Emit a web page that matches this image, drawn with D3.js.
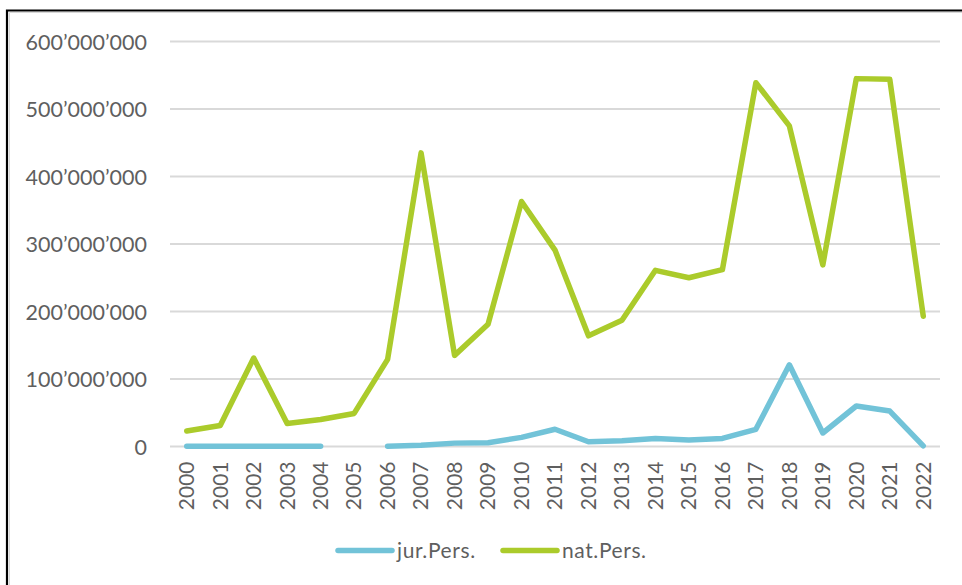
<!DOCTYPE html>
<html>
<head>
<meta charset="utf-8">
<script src="https://cdn.jsdelivr.net/npm/d3@7"></script>
<style>
  html, body { margin: 0; padding: 0; background: #fff; }
  svg { display: block; }
  text { font-family: Lato, "Open Sans", sans-serif; fill: #5f5f5f; }
</style>
</head>
<body>
<svg id="chart" width="962" height="585"></svg>
<script>
// Years on the category axis
const years = ["2000","2001","2002","2003","2004","2005","2006","2007","2008","2009","2010","2011",
               "2012","2013","2014","2015","2016","2017","2018","2019","2020","2021","2022"];

// Legal persons (no figure for 2005)
const jurPers = [0.5e6, 0.5e6, 0.5e6, 0.5e6, 0.5e6, null, 0.5e6, 2e6, 5e6, 5.5e6, 13.5e6, 25.5e6,
                 7e6, 8.5e6, 12e6, 9.5e6, 12e6, 25.5e6, 121e6, 20e6, 60e6, 52.5e6, 1e6];

// Natural persons
const natPers = [23e6, 31e6, 131e6, 34e6, 40e6, 49e6, 129e6, 435e6, 135e6, 181e6, 363e6, 291e6,
                 164e6, 187e6, 261e6, 250e6, 262e6, 539e6, 475e6, 269e6, 545e6, 544e6, 193e6];

const yTicks = [0, 100e6, 200e6, 300e6, 400e6, 500e6, 600e6];

const seriesNames = ["jur.Pers.", "nat.Pers."];
const seriesColors = ["#72C3D8", "#ABCB2B"];

const svg = d3.select("#chart");

// Frame around the chart area (left and top edges visible)
svg.append("path")
  .attr("d", "M7,585 V10.5 H962")
  .attr("fill", "none")
  .attr("stroke", "#000")
  .attr("stroke-width", 2.2);
svg.append("path")
  .attr("d", "M9.5,585 V12.5 H962")
  .attr("fill", "none")
  .attr("stroke", "#d8d8d8")
  .attr("stroke-width", 1);

const plot = { left: 170, right: 940, top: 41.5, bottom: 446.5 };

const x = d3.scaleBand().domain(years).range([plot.left, plot.right]);
const y = d3.scaleLinear().domain([0, 600e6]).range([plot.bottom, plot.top]);

const fmt = v => d3.format(",")(v).replace(/,/g, "\u2019");

// Horizontal gridlines
svg.append("g")
  .selectAll("line")
  .data(yTicks)
  .join("line")
  .attr("x1", plot.left).attr("x2", plot.right)
  .attr("y1", d => y(d)).attr("y2", d => y(d))
  .attr("stroke", "#d9d9d9")
  .attr("stroke-width", 2);

// Y axis labels
const yAxis = d3.axisLeft(y).tickValues(yTicks).tickFormat(fmt).tickSize(0).tickPadding(0);
const gy = svg.append("g").attr("transform", "translate(147,0)").call(yAxis);
gy.select(".domain").remove();
gy.selectAll("text")
  .attr("font-size", 21.5)
  .attr("dy", "0.35em")
  .style("font-family", "Lato, 'Open Sans', sans-serif")
  .attr("fill", "#5f5f5f");

// X axis labels, rotated
const xAxis = d3.axisBottom(x).tickSize(0).tickPadding(0);
const gx = svg.append("g").attr("transform", `translate(0,${plot.bottom})`).call(xAxis);
gx.select(".domain").remove();
gx.selectAll("text")
  .attr("font-size", 21)
  .style("font-family", "Lato, 'Open Sans', sans-serif")
  .attr("fill", "#5f5f5f")
  .attr("text-anchor", "end")
  .attr("transform", "rotate(-90)")
  .attr("x", -15)
  .attr("y", 0)
  .attr("dy", "0.35em");

// Series lines
const line = d3.line()
  .defined(d => d.v !== null)
  .x(d => x(d.year) + x.bandwidth() / 2)
  .y(d => y(d.v));

[jurPers, natPers].forEach((vals, i) => {
  const pts = years.map((yr, j) => ({ year: yr, v: vals[j] }));
  svg.append("path")
    .datum(pts)
    .attr("d", line)
    .attr("fill", "none")
    .attr("stroke", seriesColors[i])
    .attr("stroke-width", 5.5)
    .attr("stroke-linejoin", "round")
    .attr("stroke-linecap", "round");
});

// Legend
const legendPos = [{ x: 338, tx: 397 }, { x: 503, tx: 562 }];
const legend = svg.append("g");
seriesNames.forEach((name, i) => {
  legend.append("line")
    .attr("x1", legendPos[i].x).attr("x2", legendPos[i].x + 54)
    .attr("y1", 550.5).attr("y2", 550.5)
    .attr("stroke", seriesColors[i])
    .attr("stroke-width", 5.5)
    .attr("stroke-linecap", "round");
  legend.append("text")
    .attr("x", legendPos[i].tx)
    .attr("y", 550.5)
    .attr("dy", "0.35em")
    .attr("font-size", 21)
    .attr("letter-spacing", "0.6px")
    .text(name);
});
</script>
</body>
</html>
